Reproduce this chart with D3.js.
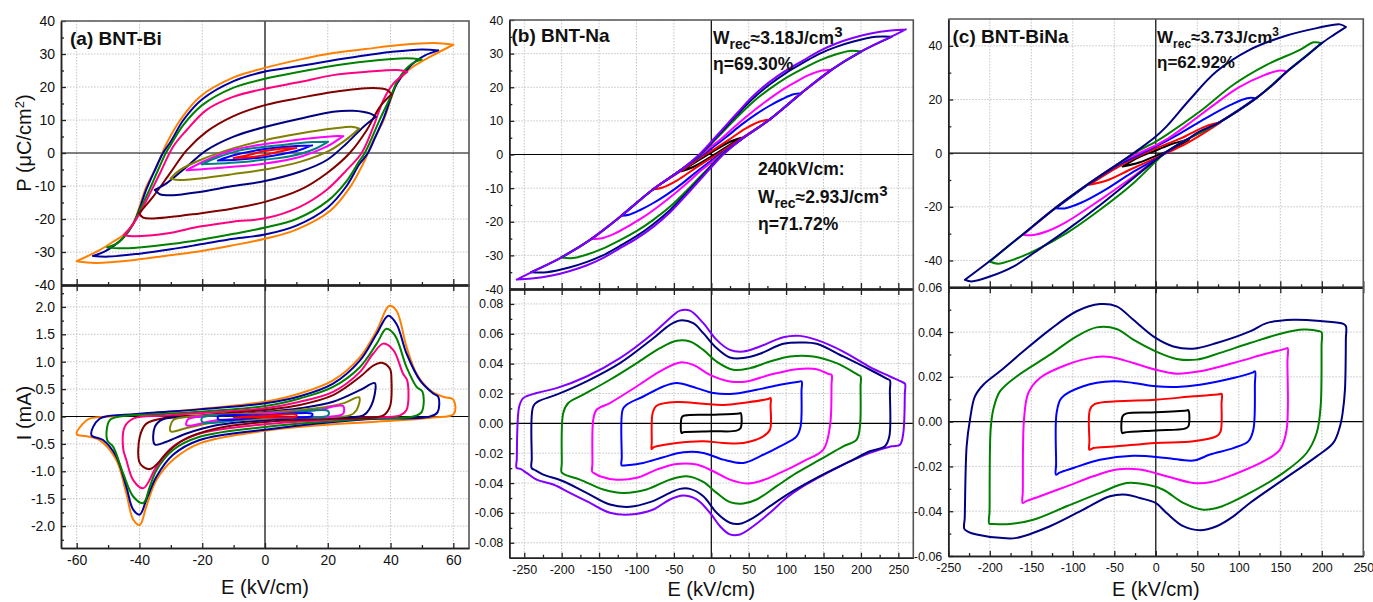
<!DOCTYPE html>
<html>
<head>
<meta charset="utf-8">
<script src="https://cdnjs.cloudflare.com/ajax/libs/d3/7.8.5/d3.min.js"></script>
<style>
  body { margin: 0; background: #fff; }
  svg { display: block; font-family: "Liberation Sans", Arial, sans-serif; }
</style>
</head>
<body>
<svg width="1373" height="602"></svg>
<script>
const svg = d3.select("svg");
const defs = svg.append("defs");

// ---------- tick values ----------
const aETicks = [-60, -40, -20, 0, 20, 40, 60];
const bcETicks = [-250, -200, -150, -100, -50, 0, 50, 100, 150, 200, 250];
const abPTicks = [-40, -30, -20, -10, 0, 10, 20, 30, 40];
const cPTicks = [-40, -20, 0, 20, 40];
const aITicks = [-2, -1.5, -1, -0.5, 0, 0.5, 1, 1.5, 2];
const bITicks = [-0.08, -0.06, -0.04, -0.02, 0, 0.02, 0.04, 0.06, 0.08];
const cITicks = [-0.06, -0.04, -0.02, 0, 0.02, 0.04, 0.06];

// ---------- colours ----------
const aColors = ["#FF8000", "#0000A0", "#008000", "#FF0080", "#800000", "#000080", "#808000", "#FF00FF", "#008080", "#0000FF", "#FF0000"];
const bColors = ["#8000FF", "#000080", "#008000", "#FF00FF", "#0000FF", "#FF0000", "#000000"];
const cColors = ["#000080", "#008000", "#FF00FF", "#0000FF", "#FF0000", "#000000"];

// ---------- (a) BNT-Bi  P-E loops [E kV/cm, P uC/cm2], outer to inner ----------
const aPE = [
  [[60,32.8],[54,33.3],[43,32.7],[32,31.5],[21.7,30.3],[11,28.3],[0,25.8],[-10,22.9],[-20.8,17],[-27,10],[-31.4,2.8],[-34.6,-4.2],[-37.8,-10.2],[-40,-16.3],[-42,-21.3],[-45.2,-24.9],[-48.4,-26.9],[-52.7,-29.4],[-60,-32.8],
   [-54,-33.3],[-43,-32.6],[-32,-31.2],[-21.7,-29.9],[-11,-28.1],[0,-26],[10,-23.2],[20.8,-17.5],[27,-10.5],[31.4,-3],[34.6,4],[37.8,10],[40,16],[42,21],[45.2,24.7],[48.4,26.9],[52.7,29.2],[60,32.8]],
  [[55.2,31.1],[50,31.4],[40,30.6],[30,29.3],[20,27.8],[10,26.2],[0,24.7],[-10,21.8],[-20,16.3],[-26,10],[-30,3.5],[-32.5,0],[-35,-5],[-38,-11.5],[-40,-17],[-42,-21.5],[-45,-25.5],[-48,-28],[-51,-29.8],[-54.8,-31.2],
   [-50,-31.4],[-40,-30.5],[-30,-29.2],[-20,-27.6],[-10,-26],[0,-24.7],[10,-22],[20,-16.5],[26,-10],[30,-3.5],[32.8,0],[35,4.5],[38,11],[40,16.5],[42,21],[45,25],[48,27.8],[51,29.6],[55.2,31.1]],
  [[49.9,28.3],[45,28.7],[35,28],[25,26.9],[15,25.3],[5,23.5],[0,22.5],[-10,19.8],[-20,14.5],[-26,8.5],[-30,2.5],[-31.6,0],[-34,-5],[-37,-11.5],[-40,-17.5],[-42,-21.5],[-44.5,-25],[-47,-27.3],[-50.3,-28.6],
   [-46,-28.9],[-40,-28.6],[-30,-27.6],[-20,-26.2],[-10,-24.5],[0,-22.6],[10,-20],[20,-14.5],[26,-8.5],[30,-2.5],[31.8,0],[34,4.5],[37,11],[40,17],[42,21.5],[44.5,25],[47,27.2],[49.9,28.3]],
  [[45.3,24.6],[43,25.1],[32.4,24.6],[21.7,23.6],[11.1,21.5],[0,19.5],[-10.2,17],[-18.7,13],[-25,6.9],[-29.3,1.9],[-33.5,-6.2],[-36.7,-12.3],[-39.9,-18.3],[-42.6,-22.3],[-45,-24.9],
   [-42,-25.2],[-31.4,-24.4],[-20.8,-22.3],[-10.2,-20.8],[0,-19.8],[11.1,-16.3],[19.6,-11.2],[26,-5.2],[30.8,0],[34.5,7.9],[37.7,16],[40.9,21],[45.3,24.6]],
  [[40.3,17.8],[38.7,19.2],[34.5,19.7],[21.7,18.5],[11.1,16.7],[0,14.5],[-10.2,11.1],[-18.7,6.4],[-25,0.8],[-30.3,-6.2],[-35.7,-13.3],[-38.8,-16.8],[-40.1,-18.3],
   [-38.8,-19.6],[-34.6,-19.8],[-20.8,-18.3],[-10.2,-16.8],[0,-14.8],[11.1,-11.2],[19.6,-6.2],[27,0],[32.4,6.9],[36.6,14],[40.3,17.8]],
  [[35.3,11],[33.4,12],[28.1,12.8],[21.7,12.5],[11.1,10.4],[0,7.9],[-10.2,4.9],[-18.7,0.8],[-25,-4.2],[-31.4,-9.2],[-35.1,-11.2],
   [-33.5,-12.5],[-29.3,-12.8],[-20.8,-11.8],[-10.2,-10],[0,-8.5],[11.1,-5.7],[19.6,-2.2],[26,2.9],[31.3,7.9],[35.3,11]],
  [[30,7.4],[28.1,7.9],[21.7,7.4],[11.1,5.9],[0,3.9],[-10.2,1.4],[-20.8,-2.2],[-27.2,-5.2],[-30.1,-7.7],
   [-27.2,-8.2],[-20.8,-7.7],[-10.2,-6.4],[0,-5],[11.1,-2.7],[20.7,0.8],[27,4.9],[30,7.4]],
  [[24.9,5.1],[21.7,5.1],[11.1,4.1],[0,2.7],[-10.2,0.9],[-18.7,-2.2],[-25,-5.2],
   [-20.8,-5],[-10.2,-4.2],[0,-3.2],[11.1,-1.2],[19.6,1.9],[24.9,5.1]],
  [[20.1,3.4],[15,3.3],[8,2.7],[0,1.9],[-8,0.8],[-15,-1.3],[-20.2,-3.4],
   [-15,-3.2],[-8,-2.8],[0,-2],[8,-1],[15,0.9],[20.1,3.4]],
  [[15,2.3],[10,2.1],[0,1.2],[-10,-0.7],[-15,-2.3],[-10,-2.1],[0,-1.2],[10,0.6],[15,2.3]],
  [[10,1.5],[5,1.3],[0,0.6],[-5,-0.5],[-10,-1.5],[-5,-1.3],[0,-0.6],[5,0.5],[10,1.5]]
];

// ---------- (a) I-E loops [E kV/cm, I mA] ----------
const aIE = [
  [[-60,-0.32],[-58,-0.13],[-55.9,-0.04],[-49.5,0],[-31.4,0.08],[0,0.27],[11.1,0.42],[21.7,0.66],[30.2,1.08],[35.6,1.57],[39.6,2.02],[41.9,1.93],[45.1,1.27],[48.3,0.78],[52.6,0.48],[56.8,0.36],[60,0.31],[60.2,0.05],[53.6,-0.02],[43,-0.07],[21.7,-0.14],[0,-0.26],[-20.8,-0.49],[-29.3,-0.79],[-34.6,-1.16],[-37.8,-1.64],[-39.9,-1.98],[-42,-1.88],[-44.2,-1.4],[-47.4,-0.79],[-52.7,-0.43],[-56.9,-0.36]],
  [[-55.3,-0.34],[-52.7,-0.04],[-42,0.04],[-20.8,0.13],[0,0.24],[11.1,0.37],[21.7,0.6],[30.2,1.02],[35.6,1.51],[39.3,1.84],[41.9,1.69],[45.1,1.15],[49.4,0.66],[53.6,0.42],[55.2,0.36],[55,0.08],[52.6,0],[32.4,-0.05],[0,-0.24],[-20.8,-0.43],[-29.3,-0.7],[-34.6,-1.1],[-37.8,-1.52],[-39.9,-1.79],[-42,-1.7],[-44.2,-1.28],[-47.4,-0.73],[-51.6,-0.43]],
  [[-50.3,-0.43],[-49.5,-0.07],[-46.3,0],[-31.4,0.05],[0,0.19],[11.1,0.33],[21.7,0.54],[30.2,0.9],[35.6,1.33],[38.7,1.6],[41.4,1.48],[45.1,0.9],[48.3,0.54],[50.2,0.45],[49.9,0.08],[47.2,0],[32.4,-0.04],[0,-0.19],[-20.8,-0.37],[-29.3,-0.61],[-34.6,-0.98],[-36.7,-1.28],[-38.8,-1.58],[-42,-1.46],[-45.2,-1.04],[-48.4,-0.55]],
  [[-45.2,-0.58],[-44.7,-0.19],[-42,-0.04],[-31.4,0.02],[0,0.15],[11.1,0.27],[21.7,0.45],[30.2,0.81],[34.5,1.15],[37.7,1.33],[40.9,1.21],[44,0.78],[45.3,0.66],[45.1,0.12],[43,0.02],[32.4,-0.02],[0,-0.14],[-20.8,-0.31],[-29.3,-0.55],[-34.6,-0.92],[-38.8,-1.31],[-42,-1.16],[-44.2,-0.79]],
  [[-40.1,-0.82],[-39.9,-0.37],[-37.8,-0.13],[-31.4,-0.02],[-20.8,0.02],[0,0.12],[11.1,0.21],[21.7,0.39],[30.2,0.72],[34.5,0.93],[37.2,0.98],[39.8,0.87],[40.3,0.66],[39.8,0.18],[37.7,0.02],[21.7,-0.04],[0,-0.1],[-15.5,-0.22],[-26.1,-0.43],[-31.4,-0.67],[-34.6,-0.88],[-36.7,-0.96],[-38.8,-0.92]],
  [[-35.1,-0.51],[-35.1,-0.19],[-32.5,-0.05],[-20.8,0],[0,0.08],[11.1,0.15],[21.7,0.27],[30.2,0.48],[35,0.61],[35,0.42],[33.4,0.15],[31.3,0.02],[16.4,-0.02],[0,-0.07],[-15.5,-0.16],[-25,-0.31],[-31.4,-0.46]],
  [[-30.1,-0.27],[-29.3,-0.07],[-25,-0.01],[0,0.07],[16.4,0.15],[24.9,0.24],[30,0.35],[29.2,0.12],[27,0.02],[11.1,-0.01],[0,-0.04],[-15.5,-0.1],[-25,-0.21]],
  [[-25,-0.16],[-24.5,-0.05],[-20.8,0],[0,0.05],[16.4,0.12],[24.9,0.19],[24.9,0.05],[22.8,0.01],[0,-0.02],[-15.5,-0.07]],
  [[-20,-0.1],[-20,-0.02],[0,0.02],[20.1,0.1],[20.1,0.02],[0,-0.01]],
  [[-14.9,-0.05],[-14.9,0],[0,0.02],[15,0.05],[15,0.01],[0,-0.01]],
  [[-10,-0.02],[0,0.01],[10,0.03],[10,0],[0,-0.01]]
];

// ---------- (b) BNT-Na P-E loops ----------
const bPE = [
  [[260,37.2],[240,36.9],[213,36],[190,34.7],[167,33],[145,30.8],[123,28],[100,25],[78,21.6],[55,17.2],[34,12.2],[15,7.5],[0,3.8],[-16,0],[-40,-4.5],[-78,-10.4],[-120,-18.2],[-160,-25.1],[-200,-30.6],[-240,-35],[-260,-37.2],
   [-240,-36.9],[-213,-36],[-190,-34.7],[-167,-33],[-145,-30.8],[-123,-28],[-100,-25],[-78,-21.6],[-55,-17.2],[-34,-12.2],[-15,-7.5],[0,-3.8],[16,0],[40,4.5],[78,10.4],[120,18.2],[160,25.1],[200,30.6],[240,35],[260,37.2]],
  [[241,35],[220,35],[190,33.6],[167,32],[145,30],[123,27.3],[100,24.3],[78,20.8],[55,16.5],[34,11.7],[15,7.1],[0,3.5],[-15,0],[-40,-4.5],[-78,-10.4],[-120,-18.2],[-160,-25.1],[-200,-30.6],[-241,-35],
   [-220,-35],[-190,-33.6],[-167,-32],[-145,-30],[-123,-27.3],[-100,-24.3],[-78,-20.8],[-55,-16.5],[-34,-11.7],[-15,-7.1],[0,-3.5],[15,0],[40,4.5],[78,10.4],[120,18.2],[160,25.1],[200,30.6],[241,35]],
  [[201,30.6],[185,30.8],[167,29.8],[145,28],[123,25.6],[100,22.8],[78,19.5],[55,15.5],[34,11],[15,6.6],[0,3.2],[-14,0],[-40,-4.5],[-78,-10.4],[-120,-18.2],[-160,-25.1],[-201,-30.6],
   [-185,-30.8],[-167,-29.8],[-145,-28],[-123,-25.6],[-100,-22.8],[-78,-19.5],[-55,-15.5],[-34,-11],[-15,-6.6],[0,-3.2],[14,0],[40,4.5],[78,10.4],[120,18.2],[160,25.1],[201,30.6]],
  [[160.8,25.1],[148,25],[130,23.6],[110,21.2],[90,18.5],[70,15.3],[50,11.8],[30,8],[15,5],[0,2.4],[-13,0],[-40,-4.5],[-78,-10.4],[-120,-18.2],[-160.8,-25.1],
   [-148,-25],[-130,-23.6],[-110,-21.2],[-90,-18.5],[-70,-15.3],[-50,-11.8],[-30,-8],[-15,-5],[0,-2.4],[13,0],[40,4.5],[78,10.4],[120,18.2],[160.8,25.1]],
  [[120.7,18.2],[110,17.9],[95,16.5],[78,14.5],[60,12],[40,8.8],[20,5.2],[0,1.8],[-11,0],[-40,-4.5],[-78,-10.4],[-120.7,-18.2],
   [-110,-17.9],[-95,-16.5],[-78,-14.5],[-60,-12],[-40,-8.8],[-20,-5.2],[0,-1.8],[11,0],[40,4.5],[78,10.4],[120.7,18.2]],
  [[79,10.4],[65,9.8],[45,7.6],[25,4.6],[0,1],[-8,0],[-40,-4.8],[-79,-10.4],
   [-65,-9.8],[-45,-7.6],[-25,-4.6],[0,-1],[8,0],[40,4.8],[79,10.4]],
  [[40,5],[25,3.8],[0,0.6],[-40,-5],[-25,-3.8],[0,-0.6],[40,5]]
];

// ---------- (b) I-E loops [E kV/cm, I] ----------
const bIE = [
  [[-260.2,-0.0299],[-260,-0.024],[-256.7,0.0114],[-251.3,0.0169],[-233.5,0.0203],[-206.8,0.0236],[-166.7,0.0314],[-122.1,0.0437],[-77.6,0.0604],[-55.3,0.0704],[-41.9,0.0755],[-28.5,0.0755],[-10.7,0.0671],[7.1,0.0559],[24.9,0.0492],[42.8,0.0481],[65,0.0515],[96.2,0.0577],[118.5,0.0586],[140.8,0.0559],[176.4,0.0481],[212.1,0.0377],[238.8,0.0314],[255,0.0277],[258.9,0.0265],[258.7,0.02],[256.6,-0.0065],[252.2,-0.0143],[241,-0.0154],[212,-0.0198],[167.5,-0.0299],[123,-0.0421],[100.7,-0.0499],[78.4,-0.0599],[56.1,-0.0689],[38.3,-0.0744],[24.9,-0.0744],[11.6,-0.0689],[-1.8,-0.0599],[-19.6,-0.051],[-37.5,-0.0484],[-55.3,-0.051],[-77.6,-0.0577],[-108.8,-0.0611],[-135.5,-0.0599],[-166.7,-0.0521],[-189,-0.0466],[-211.2,-0.041],[-233.5,-0.0377],[-246.9,-0.0332],[-255,-0.0305]],
  [[-240.2,-0.0299],[-240,-0.024],[-238,0.0114],[-231.3,0.0147],[-206.8,0.0192],[-166.7,0.0281],[-122.1,0.0403],[-77.6,0.057],[-55.3,0.066],[-41.9,0.0689],[-24.1,0.0671],[-10.7,0.0604],[7.1,0.0504],[24.9,0.0441],[42.8,0.0437],[65,0.0466],[96.2,0.0533],[123,0.0542],[140.8,0.0533],[176.4,0.0448],[212.1,0.0359],[235,0.0298],[238.8,0.0287],[238.7,0.022],[238,-0.0087],[232,-0.0154],[212,-0.0187],[189.8,-0.0243],[145.2,-0.0354],[105.1,-0.0466],[78.4,-0.0555],[56.1,-0.0633],[38.3,-0.0673],[24.9,-0.0666],[7.1,-0.0599],[-10.7,-0.0488],[-28.5,-0.0439],[-41.9,-0.0439],[-55.3,-0.0466],[-82,-0.0528],[-108.8,-0.0559],[-135.5,-0.0544],[-166.7,-0.0466],[-197.9,-0.0388],[-224.6,-0.0343],[-235,-0.0315]],
  [[-200.1,-0.0328],[-199.9,-0.027],[-197.9,0.0069],[-191.2,0.0136],[-171.1,0.0192],[-135.5,0.0292],[-99.8,0.0403],[-68.6,0.0504],[-46.4,0.0553],[-28.5,0.0548],[-10.7,0.0492],[7.1,0.0414],[29.4,0.0359],[51.7,0.037],[78.4,0.0414],[105.1,0.0448],[136.3,0.0448],[167.5,0.0403],[196,0.0325],[199.6,0.0314],[199.5,0.025],[198.7,-0.002],[194.3,-0.0109],[176.4,-0.0154],[145.2,-0.0243],[114,-0.0332],[87.3,-0.0421],[60.6,-0.051],[42.8,-0.0537],[24.9,-0.0528],[7.1,-0.0466],[-10.7,-0.0392],[-33,-0.0354],[-55.3,-0.0377],[-86.5,-0.0443],[-117.7,-0.0466],[-144.4,-0.0443],[-175.6,-0.0377],[-195,-0.0345]],
  [[-159.1,-0.0325],[-158.9,-0.027],[-157.8,0.0025],[-153.3,0.0091],[-135.5,0.0136],[-99.8,0.0247],[-68.6,0.0348],[-41.9,0.0408],[-24.1,0.0392],[-1.8,0.0325],[24.9,0.0281],[47.2,0.0281],[78.4,0.0325],[114,0.0363],[140.8,0.0363],[157,0.033],[160.8,0.0325],[160.7,0.026],[158.6,-0.002],[149.7,-0.0176],[123,-0.0254],[91.8,-0.0332],[65,-0.0388],[47.2,-0.0403],[24.9,-0.0377],[2.7,-0.0321],[-19.6,-0.0276],[-46.4,-0.0272],[-73.1,-0.031],[-99.8,-0.0365],[-126.6,-0.0377],[-148.9,-0.0354],[-155,-0.0338]],
  [[-119.9,-0.0281],[-119.7,-0.023],[-118.5,0.0091],[-113.2,0.0125],[-90.9,0.018],[-64.2,0.0247],[-46.4,0.027],[-19.6,0.0236],[2.7,0.0203],[29.4,0.0198],[60.6,0.0225],[91.8,0.0258],[117,0.0279],[120.7,0.0281],[120.6,0.022],[119.4,-0.002],[114,-0.0087],[91.8,-0.0154],[65,-0.0221],[42.8,-0.0265],[16,-0.0243],[-10.7,-0.0198],[-37.5,-0.0194],[-64.2,-0.0227],[-90.9,-0.0265],[-113.2,-0.0281],[-116,-0.0282]],
  [[-79.8,-0.0172],[-79.6,-0.013],[-78.4,0.0069],[-73.1,0.0118],[-46.4,0.0143],[-10.7,0.0131],[16,0.0123],[47.2,0.014],[76,0.0163],[79.3,0.0169],[79.2,0.012],[78.4,-0.0042],[69.5,-0.0087],[42.8,-0.0131],[16,-0.0131],[-10.7,-0.012],[-46.4,-0.0131],[-73.1,-0.0154],[-77,-0.016]],
  [[-39.7,-0.0065],[-39.2,0.0042],[-35.2,0.0053],[0,0.0058],[37,0.0066],[39.2,0.0069],[39.2,-0.0031],[33.8,-0.0049],[0,-0.0053],[-37.5,-0.006]]
];

// ---------- (c) BNT-BiNa P-E loops ----------
const cPE = [
  [[229,47],[222,48],[194,46.6],[154,43.5],[113,38.5],[73,30.4],[41,20],[13,10],[0,6.2],[-20,1.5],[-43,-3.5],[-79,-11],[-120,-20.2],[-160,-30.2],[-200,-40.2],[-230,-47.2],
   [-222,-47.8],[-200,-46],[-170,-42],[-147.6,-37.3],[-107,-28.6],[-67,-19.3],[-27,-9.3],[0,-2.5],[13,0.5],[37,5],[53,8.1],[75,11.2],[100,16],[121,20.5],[140,25.2],[158,30.4],[180,35.8],[200,41],[215,44.2],[229,47]],
  [[200,41],[190,41.3],[173.7,38.5],[133.5,32.9],[93.4,25.5],[53,15.5],[13,6.8],[0,4.3],[-20,1],[-43,-3.5],[-79,-11],[-120,-20.2],[-160,-30.2],[-200,-40.4],
   [-190,-41.2],[-170,-39.5],[-147.6,-36.6],[-107.4,-29.8],[-67.3,-21.1],[-27,-11.2],[0,-3.1],[13,0.5],[37,5],[75,11.2],[121,20.5],[158,30.4],[200,41]],
  [[158.4,30.4],[150,30.8],[130,29],[100,24.5],[70,18],[40,11],[15,5.5],[0,3],[-20,0],[-43,-3.5],[-79,-11],[-120,-20.2],[-159.6,-30.4],
   [-150,-30.6],[-130,-29],[-107,-25.5],[-67,-17.4],[-27,-8.7],[0,-2.5],[13,0.5],[37,5],[75,11.2],[121,20.5],[158.4,30.4]],
  [[120.7,20.5],[110,20.5],[90,18],[60,13],[30,7.5],[0,2.5],[-20,-0.5],[-43,-4],[-79,-11.2],[-120.3,-20.5],
   [-110,-20.6],[-90,-18.5],[-60,-13.5],[-30,-7.5],[0,-2.2],[13,0.3],[37,5],[75,11.2],[120.7,20.5]],
  [[78,11.5],[60,10],[30,5.5],[0,1.8],[-30,-2.5],[-50,-6],[-80,-11.8],
   [-60,-10.3],[-30,-6],[0,-1.8],[30,2.5],[50,6],[78,11.5]],
  [[40,5],[20,3.5],[0,1],[-20,-1.5],[-40,-5],[-20,-3.5],[0,-1],[20,1.5],[40,5]]
];

// ---------- (c) I-E loops ----------
const cIE = [
  [[-230.7,-0.0479],[-230.2,-0.043],[-227.9,-0.011],[-223.9,0.0009],[-217.9,0.0113],[-207.8,0.0165],[-187.8,0.0225],[-159.6,0.0314],[-127.5,0.0411],[-95.4,0.0493],[-67.3,0.0525],[-47.2,0.0515],[-27.1,0.0455],[-0.2,0.0374],[21.1,0.0336],[45.2,0.0326],[73.3,0.0351],[113.4,0.0403],[133.5,0.044],[165.7,0.0455],[201.8,0.0448],[226,0.0437],[229.1,0.0426],[229,0.037],[227.9,0.0143],[225.1,0.0039],[221.9,-0.0021],[213.8,-0.0095],[193.8,-0.0155],[153.6,-0.0259],[113.4,-0.0363],[93.4,-0.0423],[73.3,-0.0467],[53.2,-0.0485],[33.1,-0.0467],[13,-0.0408],[-0.2,-0.0363],[-19.1,-0.0341],[-35.1,-0.0326],[-55.2,-0.0333],[-87.4,-0.0393],[-127.5,-0.0467],[-167.7,-0.0519],[-187.8,-0.0519],[-215.9,-0.0504],[-226,-0.0492]],
  [[-200.6,-0.0455],[-200.3,-0.04],[-199,-0.0036],[-195.8,0.0054],[-187.8,0.0135],[-167.7,0.0202],[-127.5,0.0299],[-95.4,0.0381],[-71.3,0.0421],[-47.2,0.0414],[-27.1,0.0366],[-0.2,0.0314],[25.1,0.028],[49.2,0.0277],[77.3,0.0307],[113.4,0.0351],[153.6,0.0396],[177.7,0.0411],[197,0.0404],[199.8,0.0399],[199.7,0.034],[198.6,0.0068],[193.8,-0.0051],[181.7,-0.014],[153.6,-0.0229],[113.4,-0.0318],[77.3,-0.0381],[57.2,-0.0393],[33.1,-0.0363],[9,-0.0304],[-11.1,-0.0281],[-35.1,-0.0274],[-67.3,-0.0318],[-107.4,-0.0378],[-147.6,-0.0438],[-175.7,-0.0457],[-196,-0.0457]],
  [[-160.4,-0.0363],[-160.2,-0.031],[-158.8,0.0009],[-153.6,0.0128],[-139.6,0.0195],[-107.4,0.0254],[-75.3,0.0287],[-55.2,0.0289],[-27.1,0.0262],[-0.2,0.0232],[25.1,0.0214],[53.2,0.0225],[93.4,0.0262],[133.5,0.0304],[156,0.0325],[158.8,0.0329],[158.6,0.027],[157.6,-0.0036],[149.6,-0.0125],[133.5,-0.017],[93.4,-0.0237],[65.3,-0.0271],[45.2,-0.0274],[13,-0.0244],[-19.1,-0.0214],[-47.2,-0.0214],[-75.3,-0.0244],[-107.4,-0.0289],[-139.6,-0.0333],[-156,-0.0355]],
  [[-120.3,-0.0237],[-120.1,-0.019],[-119.5,0.0039],[-113.5,0.0106],[-87.4,0.0158],[-51.2,0.018],[-27.1,0.0173],[-0.2,0.0158],[25.1,0.0155],[53.2,0.0165],[93.4,0.0195],[116.5,0.0219],[119.5,0.0225],[119.4,0.017],[117.5,-0.0036],[111.4,-0.0088],[93.4,-0.0118],[65.3,-0.0147],[45.2,-0.0174],[13,-0.0162],[-27.1,-0.0152],[-67.3,-0.017],[-99.4,-0.0207],[-116,-0.0228]],
  [[-80.1,-0.0125],[-80,-0.009],[-79.3,0.0054],[-73.3,0.0079],[-47.2,0.0091],[-0.2,0.0098],[45.2,0.0113],[76,0.0122],[79.3,0.0124],[79.2,0.008],[78.1,-0.0043],[73.3,-0.0065],[45.2,-0.0088],[-0.2,-0.0095],[-47.2,-0.011],[-75.3,-0.0118],[-77,-0.0121]],
  [[-40.4,-0.0051],[-40,0.0024],[-36,0.0036],[-0.2,0.0042],[37,0.005],[39.2,0.0051],[39.2,-0.0021],[35.1,-0.0031],[-0.2,-0.0039],[-37.5,-0.0048]]
];

// format with a plain hyphen minus, like the original
const fmt = n => d => (d < 0 ? "-" : "") + Math.abs(d).toFixed(n);
const odd = (lo, hi, step) => d3.range(lo, hi + step / 2, step * 2);

function drawPanel(o) {
  const g = svg.append("g");
  const x = d3.scaleLinear().domain(o.xDom).range([o.left, o.right]);
  const yP = d3.scaleLinear().domain(o.pDom).range([o.mid, o.top]);
  const yI = d3.scaleLinear().domain(o.iDom).range([o.bottom, o.mid]);

  defs.append("clipPath").attr("id", "ct" + o.id).append("rect")
    .attr("x", o.left).attr("y", o.top).attr("width", o.right - o.left).attr("height", o.mid - o.top);
  defs.append("clipPath").attr("id", "cb" + o.id).append("rect")
    .attr("x", o.left).attr("y", o.mid).attr("width", o.right - o.left).attr("height", o.bottom - o.mid);

  // dotted grid
  const grid = g.append("g").attr("stroke", "#c4c4c4").attr("stroke-width", 1).attr("stroke-dasharray", "1.5,1.5");
  grid.selectAll("line.v").data(o.eTicks.filter(d => d !== 0)).join("line").attr("class", "v")
    .attr("x1", d => x(d)).attr("x2", d => x(d)).attr("y1", o.top).attr("y2", o.bottom);
  grid.selectAll("line.p").data(o.pTicks.filter(d => d !== 0)).join("line").attr("class", "p")
    .attr("x1", o.left).attr("x2", o.right).attr("y1", d => yP(d)).attr("y2", d => yP(d));
  grid.selectAll("line.i").data(o.iTicks.filter(d => d !== 0)).join("line").attr("class", "i")
    .attr("x1", o.left).attr("x2", o.right).attr("y1", d => yI(d)).attr("y2", d => yI(d));

  // zero lines
  const zero = g.append("g").attr("stroke", "#000").attr("stroke-width", 1.2);
  zero.append("line").attr("x1", x(0)).attr("x2", x(0)).attr("y1", o.top).attr("y2", o.bottom);
  zero.append("line").attr("x1", o.left).attr("x2", o.right).attr("y1", yP(0)).attr("y2", yP(0));
  zero.append("line").attr("x1", o.left).attr("x2", o.right).attr("y1", yI(0)).attr("y2", yI(0));

  // P-E loops: split at the negative tip so both tips stay pointed
  const lineP = d3.line().x(d => x(d[0])).y(d => yP(d[1])).curve(d3.curveCatmullRom.alpha(0.5));
  const pe = o.pe.map((d, i) => ({ pts: d, c: o.colors[i] }));
  g.append("g").attr("clip-path", `url(#ct${o.id})`)
    .selectAll("path").data(o.peOuterLast ? pe.slice().reverse() : pe).join("path")
    .attr("d", d => {
      const k = d3.minIndex(d.pts, p => p[0]);
      return lineP(d.pts.slice(0, k + 1)) + lineP(d.pts.slice(k));
    })
    .attr("fill", "none").attr("stroke", d => d.c).attr("stroke-width", 2)
    .attr("stroke-linecap", "round").attr("stroke-linejoin", "round");

  // I-E loops
  const lineI = d3.line().x(d => x(d[0])).y(d => yI(d[1])).curve(d3.curveCatmullRomClosed.alpha(0.5));
  g.append("g").attr("clip-path", `url(#cb${o.id})`)
    .selectAll("path").data(o.ie).join("path")
    .attr("d", lineI)
    .attr("fill", "none").attr("stroke", (d, i) => o.colors[i]).attr("stroke-width", 2)
    .attr("stroke-linejoin", "round");

  // axes
  const styleAxis = (sel, fs, w) => {
    sel.attr("font-size", fs).attr("font-family", null);
    sel.selectAll("path.domain").attr("stroke", "#222").attr("stroke-width", w);
    sel.selectAll(".tick line").attr("stroke", "#222").attr("stroke-width", 1.3);
    sel.selectAll("text").attr("fill", "#111");
  };
  const left = g.append("g").attr("transform", `translate(${o.left},0)`);
  left.append("g").call(d3.axisLeft(yP).tickValues(o.pTicks).tickFormat(o.pFmt)
    .tickSizeInner(-5).tickSizeOuter(0).tickPadding(o.pad)).call(styleAxis, o.fs, 1.5);
  left.append("g").call(d3.axisLeft(yP).tickValues(o.pMinor).tickFormat("")
    .tickSizeInner(-3).tickSizeOuter(0)).call(styleAxis, o.fs, 1.5);
  left.append("g").call(d3.axisLeft(yI).tickValues(o.iTicks).tickFormat(o.iFmt)
    .tickSizeInner(-5).tickSizeOuter(0).tickPadding(o.pad)).call(styleAxis, o.fs, 1.5);
  left.append("g").call(d3.axisLeft(yI).tickValues(o.iMinor).tickFormat("")
    .tickSizeInner(-3).tickSizeOuter(0)).call(styleAxis, o.fs, 1.5);

  const bottom = g.append("g").attr("transform", `translate(0,${o.bottom})`);
  bottom.append("g").call(d3.axisBottom(x).tickValues(o.eTicks).tickFormat(fmt(0))
    .tickSizeInner(-5).tickSizeOuter(0).tickPadding(7)).call(styleAxis, o.fs, 1.5);
  bottom.append("g").call(d3.axisBottom(x).tickValues(o.eMinor).tickFormat("")
    .tickSizeInner(-3).tickSizeOuter(0)).call(styleAxis, o.fs, 1.5);

  // shared middle axis: major ticks cross, minor ticks point up
  const mid = g.append("g").attr("transform", `translate(0,${o.mid})`);
  mid.append("g").call(d3.axisBottom(x).tickValues(o.eTicks).tickFormat("").tickSizeInner(6).tickSizeOuter(0)).call(styleAxis, o.fs, 2.2);
  mid.append("g").call(d3.axisTop(x).tickValues(o.eTicks).tickFormat("").tickSizeInner(6).tickSizeOuter(0)).call(styleAxis, o.fs, 2.2);
  mid.append("g").call(d3.axisTop(x).tickValues(o.eMinor).tickFormat("").tickSizeInner(3).tickSizeOuter(0)).call(styleAxis, o.fs, 2.2);

  // frame
  g.append("path")
    .attr("d", `M${o.left},${o.top}H${o.right}V${o.bottom}`)
    .attr("fill", "none").attr("stroke", "#555").attr("stroke-width", 1.6);

  // x title
  g.append("text").attr("x", x(0)).attr("y", o.xTitleY).attr("text-anchor", "middle")
    .attr("font-size", 20).attr("fill", "#111").text("E (kV/cm)");

  // panel tag
  g.append("text").attr("x", o.tagX).attr("y", o.tagY).attr("font-size", 19)
    .attr("font-weight", "bold").attr("fill", "#111").text(o.tag);
}

drawPanel({
  id: "a", left: 61, right: 469, top: 21, mid: 285, bottom: 548,
  xDom: [-65, 65], pDom: [-40, 40], iDom: [-2.4, 2.4],
  eTicks: aETicks, eMinor: odd(-50, 50, 10),
  pTicks: abPTicks, pMinor: odd(-35, 35, 5), pFmt: fmt(0),
  iTicks: aITicks, iMinor: odd(-2.25, 2.25, 0.25), iFmt: fmt(1),
  pe: aPE, ie: aIE, colors: aColors, peOuterLast: false,
  fs: 14, pad: 6, xTitleY: 594, tag: "(a) BNT-Bi", tagX: 70, tagY: 45
});
drawPanel({
  id: "b", left: 509.3, right: 913.3, top: 20, mid: 289, bottom: 557.7,
  xDom: [-270, 270], pDom: [-40, 40], iDom: [-0.09, 0.09],
  eTicks: bcETicks, eMinor: odd(-225, 225, 25),
  pTicks: abPTicks, pMinor: odd(-35, 35, 5), pFmt: fmt(0),
  iTicks: bITicks, iMinor: odd(-0.07, 0.07, 0.01), iFmt: fmt(2),
  pe: bPE, ie: bIE, colors: bColors, peOuterLast: true,
  fs: 12.5, pad: 6, xTitleY: 596, tag: "(b) BNT-Na", tagX: 511.5, tagY: 42
});
drawPanel({
  id: "c", left: 948.3, right: 1363.3, top: 19, mid: 287.3, bottom: 556,
  xDom: [-250, 250], pDom: [-50, 50], iDom: [-0.06, 0.06],
  eTicks: bcETicks, eMinor: odd(-225, 225, 25),
  pTicks: cPTicks, pMinor: odd(-30, 30, 10), pFmt: fmt(0),
  iTicks: cITicks, iMinor: odd(-0.05, 0.05, 0.01), iFmt: fmt(2),
  pe: cPE, ie: cIE, colors: cColors, peOuterLast: true,
  fs: 12.5, pad: 6, xTitleY: 596, tag: "(c) BNT-BiNa", tagX: 952.5, tagY: 43
});

// y titles of panel (a)
const yt = svg.append("g").attr("font-size", 20).attr("fill", "#111").attr("text-anchor", "middle");
const pt = yt.append("text").attr("transform", "translate(31,143) rotate(-90)");
pt.append("tspan").text("P (μC/cm");
pt.append("tspan").attr("dy", -7).attr("font-size", 13).text("2");
pt.append("tspan").attr("dy", 7).text(")");
yt.append("text").attr("transform", "translate(31,413) rotate(-90)").text("I (mA)");

// energy storage notes
function wrec(x, y, val, fs, sub, sup) {
  const t = svg.append("text").attr("x", x).attr("y", y).attr("font-size", fs)
    .attr("font-weight", "bold").attr("fill", "#111");
  t.append("tspan").text("W");
  t.append("tspan").attr("dy", 5).attr("font-size", sub).text("rec");
  t.append("tspan").attr("dy", -5).text("≈" + val + "J/cm");
  t.append("tspan").attr("dy", -7).attr("font-size", sup).text("3");
}
function note(x, y, s, fs) {
  svg.append("text").attr("x", x).attr("y", y).attr("font-size", fs)
    .attr("font-weight", "bold").attr("fill", "#111").text(s);
}
wrec(713, 44, "3.18", 17.5, 14, 15);
note(713, 70, "η=69.30%", 17.5);
note(758, 175, "240kV/cm:", 17.5);
wrec(758, 203, "2.93", 17.5, 14, 15);
note(758, 230, "η=71.72%", 17.5);
wrec(1157, 43, "3.73", 17, 12, 12);
note(1157, 68, "η=62.92%", 17);
</script>
</body>
</html>
